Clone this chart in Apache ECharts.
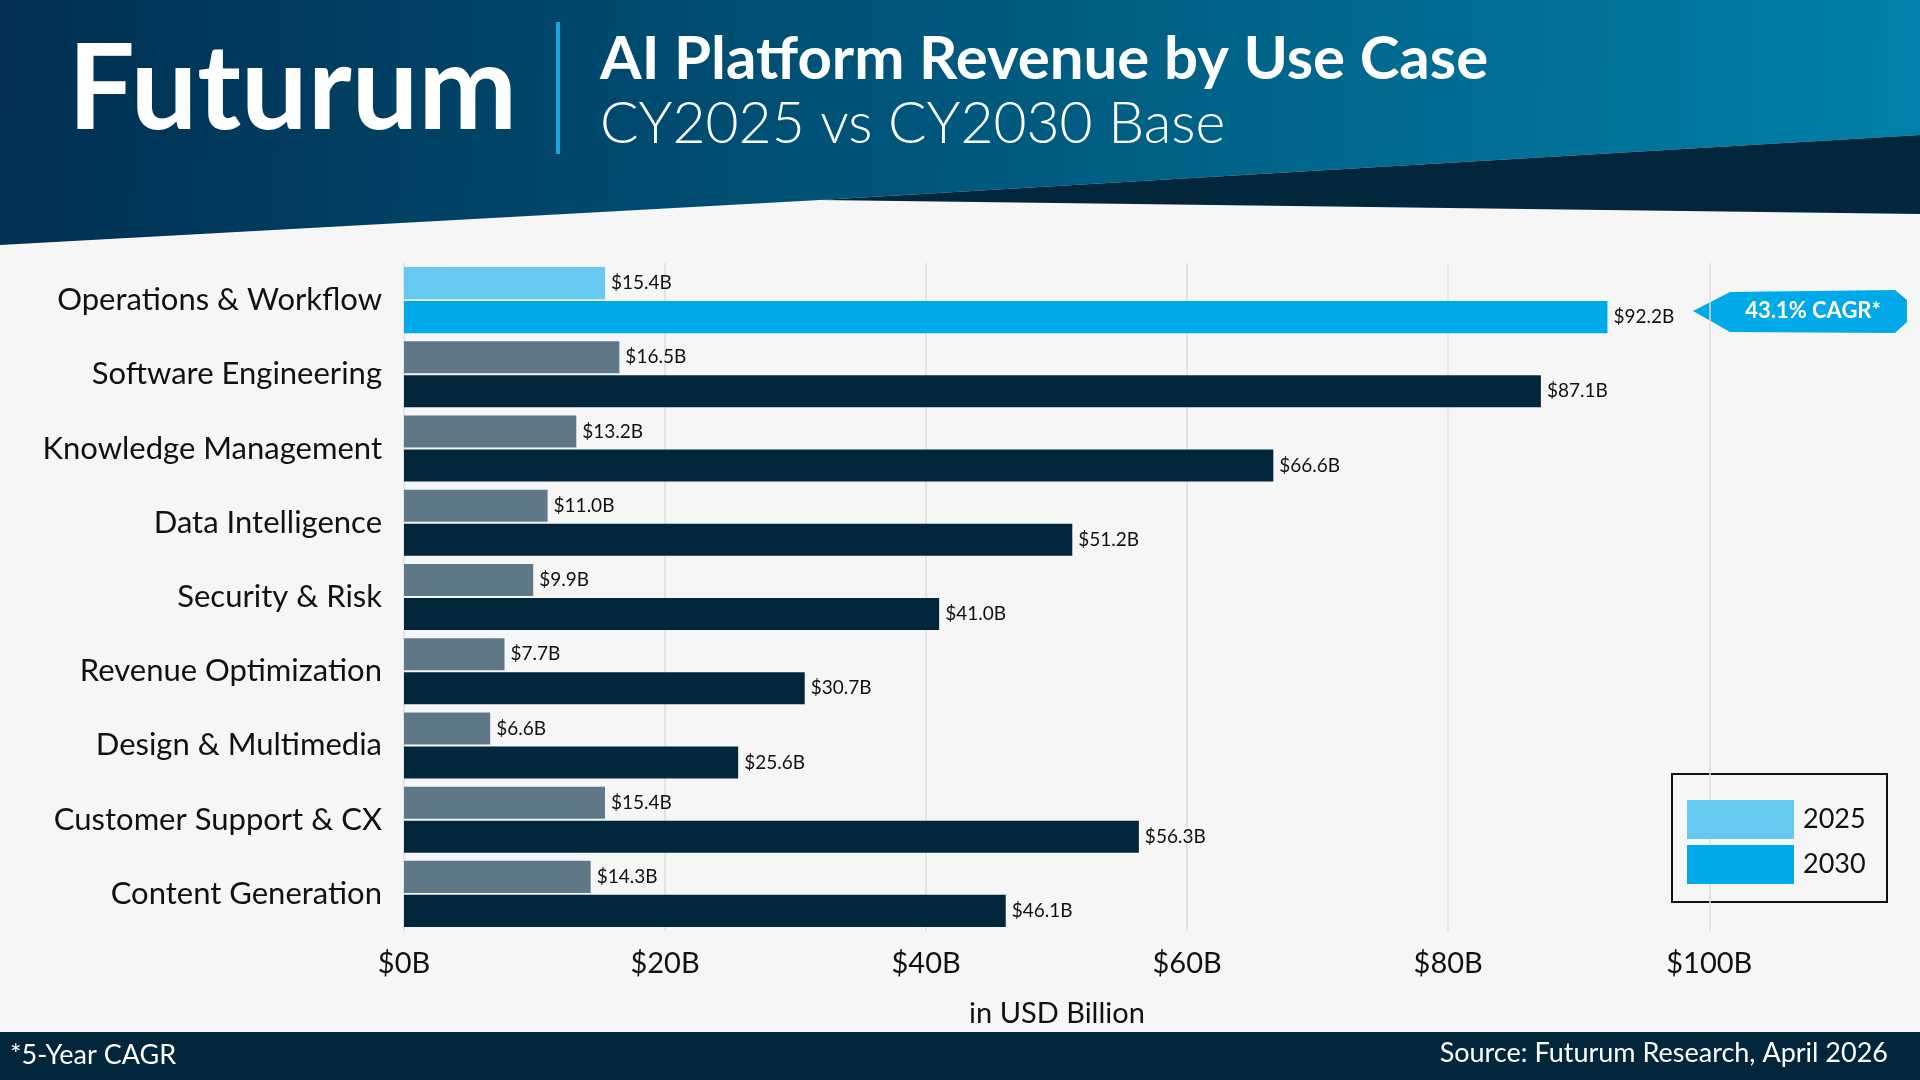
<!DOCTYPE html>
<html><head><meta charset="utf-8">
<script src="https://cdn.jsdelivr.net/npm/echarts@6/dist/echarts.min.js"></script>
<style>html,body{margin:0;padding:0;background:#f6f6f6}#c{width:1920px;height:1080px}</style>
</head><body><div id="c"></div>
<script>
const categories = ["Operations & Workflow","Software Engineering","Knowledge Management","Data Intelligence","Security & Risk","Revenue Optimization","Design & Multimedia","Customer Support & CX","Content Generation"];
const values2025 = [15.4,16.5,13.2,11.0,9.9,7.7,6.6,15.4,14.3];
const values2030 = [92.2,87.1,66.6,51.2,41.0,30.7,25.6,56.3,46.1];
const xTicks = [0,20,40,60,80,100];
const F = 'Lato, "Noto Sans", sans-serif';
const chart = echarts.init(document.getElementById('c'));
const mk = (arr, hi, lo) => arr.map((v,i)=>({value:v,itemStyle:{color:i===0?hi:lo}}));
const lbl = {show:true,position:'right',distance:6,color:'#111',fontSize:19,fontFamily:F,formatter:p=>'$'+p.value.toFixed(1)+'B'};
chart.setOption({
  backgroundColor:'#f6f6f6',
  animation:false,
  grid:{left:404,right:28,top:263,bottom:149},
  xAxis:{type:'value',min:0,max:114,interval:20,
    axisLabel:{formatter:v=>xTicks.includes(v)?'$'+v+'B':'',fontSize:29,color:'#111',fontFamily:F,margin:18,showMaxLabel:false},
    splitLine:{showMaxLine:false,lineStyle:{color:'#dcdcdc',width:1.5}},axisLine:{show:false},axisTick:{show:false}},
  yAxis:{type:'category',data:categories,inverse:true,
    axisLabel:{fontSize:31,color:'#111',fontFamily:F,margin:22},
    axisLine:{show:false},axisTick:{show:false}},
  legend:{left:1682,top:795,orient:'vertical',icon:'rect',itemWidth:107,itemHeight:39,itemGap:6,
    textStyle:{fontSize:27,color:'#111',fontFamily:F,padding:[0,0,0,4]},data:['2025','2030']},
  series:[
    {name:'2025',type:'bar',data:mk(values2025,'#66c9f0','#5f7888'),itemStyle:{color:'#66c9f0'},barGap:'6%',barCategoryGap:'11%',label:lbl},
    {name:'2030',type:'bar',data:mk(values2030,'#00a9e8','#02263b'),itemStyle:{color:'#00a9e8'},label:lbl}
  ],
  graphic:[
    {type:'polygon',z:-1,shape:{points:[[0,0],[1920,0],[1920,135],[820,200],[0,245]]},
      style:{fill:new echarts.graphic.LinearGradient(0,0,1,0.3,[{offset:0,color:'#002f52'},{offset:1,color:'#0080a8'}])}},
    {type:'polygon',z:-1,shape:{points:[[820,200],[1920,135],[1920,214]]},style:{fill:'#02263b'}},
    {type:'text',left:68,top:32,style:{text:'Futurum',fill:'#fff',font:'bold 118px '+F}},
    {type:'rect',shape:{x:556,y:22,width:4,height:132},style:{fill:'#1aa3dc'}},
    {type:'text',left:600,top:30,style:{text:'AI Platform Revenue by Use Case',fill:'#fff',font:'bold 60px '+F}},
    {type:'text',left:600,top:96,style:{text:'CY2025 vs CY2030 Base',fill:'#fff',font:'300 57px '+F}},
    {type:'text',x:1057,y:1014,style:{text:'in USD Billion',fill:'#111',font:'29px '+F,align:'center',verticalAlign:'middle'}},
    {type:'rect',shape:{x:0,y:1032,width:1920,height:48},style:{fill:'#02263b'}},
    {type:'text',left:10,top:1042,style:{text:'*5-Year CAGR',fill:'#fff',font:'27px '+F}},
    {type:'text',right:32,top:1040,style:{text:'Source: Futurum Research, April 2026',fill:'#fff',font:'27px '+F}},
    {type:'rect',shape:{x:1672,y:774,width:215,height:128},style:{fill:'none',stroke:'#111',lineWidth:2}},
    {type:'polygon',shape:{points:[[1693,311],[1730,292],[1895,290],[1907,300],[1907,322],[1895,333],[1730,332]]},style:{fill:'#00a9e8'}},
    {type:'text',x:1813,y:311,style:{text:'43.1% CAGR*',fill:'#fff',font:'bold 22px '+F,align:'center',verticalAlign:'middle'}}
  ]
});
</script></body></html>
